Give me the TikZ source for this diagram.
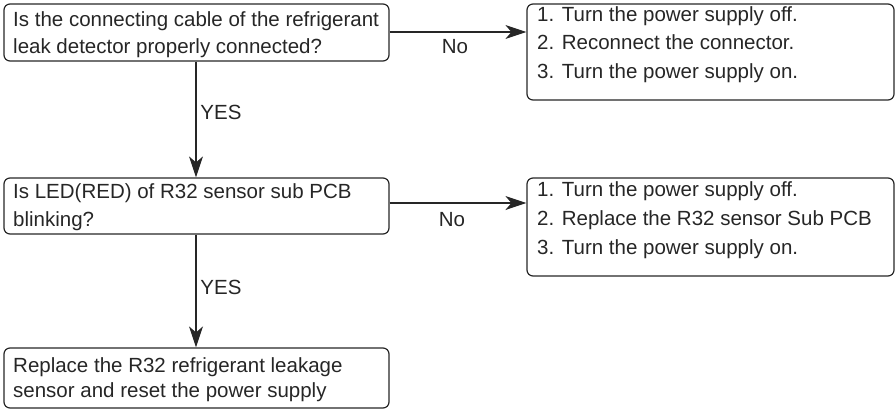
\documentclass[tikz,border=0pt]{standalone}
\usepackage{fontspec}
\setmainfont{Liberation Sans}
\usetikzlibrary{arrows.meta}
\definecolor{ink}{gray}{0.15}
\begin{document}
\begin{tikzpicture}[x=1pt,y=-1pt,
  box/.style={draw=ink, line width=1.2pt, rounded corners=6pt, inner sep=0pt},
  txt/.style={anchor=north west, inner sep=0pt, align=left, text=ink,
    font=\fontsize{20.5pt}{27pt}\selectfont},
  lbl/.style={inner sep=0pt, text=ink, font=\fontsize{20.5pt}{24pt}\selectfont},
  arr/.style={draw=ink, line width=1.3pt, -{Stealth[length=21pt,width=14pt,inset=6pt]}}]
\useasboundingbox (0,0) rectangle (896,410);
% left boxes
\node[box, minimum width=385pt, minimum height=57pt] (q1) at (196.5,32.5) {};
\node[box, minimum width=385pt, minimum height=56pt] (q2) at (196.5,206) {};
\node[box, minimum width=385pt, minimum height=60pt] (q3) at (196.5,378) {};
% right boxes
\node[box, minimum width=367pt, minimum height=96pt] (r1) at (710.5,52) {};
\node[box, minimum width=367pt, minimum height=98pt] (r2) at (710.5,227) {};
% texts
\node[txt] (q1t) at (13,11) {Is the connecting cable of the refrigerant\\leak detector properly connected?};
\node[txt, font=\fontsize{20.5pt}{28pt}\selectfont] (q2t) at (13,183.5) {Is LED(RED) of R32 sensor sub PCB\\blinking?};
\node[txt, font=\fontsize{20.5pt}{25pt}\selectfont] (q3t) at (13,357) {Replace the R32 refrigerant leakage\\sensor and reset the power supply};
\node[txt, font=\fontsize{20.5pt}{28.5pt}\selectfont] (r1t) at (537,6) {1. Turn the power supply off.\\2. Reconnect the connector.\\3. Turn the power supply on.};
\node[txt, font=\fontsize{20.5pt}{29pt}\selectfont] (r2t) at (537,181) {1. Turn the power supply off.\\2. Replace the R32 sensor Sub PCB\\3. Turn the power supply on.};
% connectors
\draw[arr] (q1.south -| 196,0) -- (q2.north -| 196,0);
\draw[arr] (q2.south -| 196,0) -- (q3.north -| 196,0);
\coordinate (h1) at (389,32);
\coordinate (h2) at (389,203);
\draw[arr] (q1.east |- h1) -- (r1.west |- h1);
\draw[arr] (q2.east |- h2) -- (r2.west |- h2);
% labels
\node[lbl] (y1) at (221,112) {YES};
\node[lbl] (y2) at (221,287) {YES};
\node[lbl] (n1) at (455,47) {No};
\node[lbl] (n2) at (452,220) {No};
\end{tikzpicture}
\end{document}
